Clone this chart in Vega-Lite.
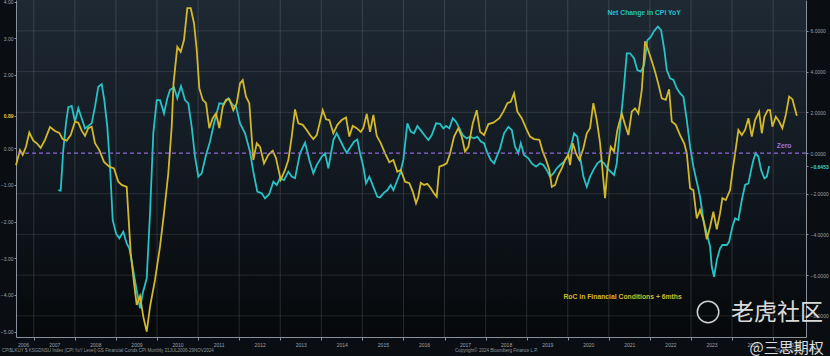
{
  "$schema": "https://vega.github.io/schema/vega-lite/v6.json",
  "width": 790,
  "height": 337,
  "autosize": {"type": "none"},
  "padding": {"left": 16, "top": 0, "right": 24, "bottom": 19},
  "background": "#0a0d11",
  "config": {
    "view": {"stroke": null, "fill": {"gradient": "linear", "x1": 0, "y1": 0, "x2": 0, "y2": 1, "stops": [{"offset": 0, "color": "#1e2934"}, {"offset": 0.5, "color": "#121921"}, {"offset": 1, "color": "#06080a"}]}},
    "font": "Liberation Sans",
    "axis": {"domainColor": "#8a9099", "tickColor": "#8a9099", "labelColor": "#9da3aa", "labelFontSize": 5, "domainWidth": 1, "title": null, "grid": false},
    "axisX": {"ticks": true, "tickSize": 3, "domain": true, "labelFontSize": 5, "labelPadding": 2, "labelFlush": false, "labelOverlap": false, "labelBound": false, "title": null}
  },
  "datasets": {
    "years": [{"year": 2007}, {"year": 2008}, {"year": 2009}, {"year": 2010}, {"year": 2011}, {"year": 2012}, {"year": 2013}, {"year": 2014}, {"year": 2015}, {"year": 2016}, {"year": 2017}, {"year": 2018}, {"year": 2019}, {"year": 2020}, {"year": 2021}, {"year": 2022}, {"year": 2023}, {"year": 2024}, {"year": 2025}],
    "hgrid": [{"v": -8}, {"v": -6}, {"v": -4}, {"v": -2}, {"v": 2}, {"v": 4}, {"v": 6}],
    "fci": [
      {"t": 2006.567, "v": -0.46}, {"t": 2006.664, "v": -0.05}, {"t": 2006.730, "v": -0.18}, {"t": 2006.810, "v": 0.04}, {"t": 2006.891, "v": 0.43}, {"t": 2006.988, "v": 0.21}, {"t": 2007.071, "v": 0.14}, {"t": 2007.168, "v": 0.01}, {"t": 2007.273, "v": 0.23}, {"t": 2007.395, "v": 0.58}, {"t": 2007.516, "v": 0.47}, {"t": 2007.621, "v": 0.42}, {"t": 2007.704, "v": 0.25}, {"t": 2007.801, "v": 0.21}, {"t": 2007.899, "v": 0.36}, {"t": 2008.003, "v": 0.73}, {"t": 2008.084, "v": 0.70}, {"t": 2008.166, "v": 0.48}, {"t": 2008.247, "v": 0.34}, {"t": 2008.327, "v": 0.55}, {"t": 2008.410, "v": 0.59}, {"t": 2008.490, "v": 0.14}, {"t": 2008.595, "v": -0.05}, {"t": 2008.710, "v": -0.37}, {"t": 2008.839, "v": -0.50}, {"t": 2008.953, "v": -0.55}, {"t": 2009.058, "v": -0.91}, {"t": 2009.140, "v": -1.00}, {"t": 2009.262, "v": -1.05}, {"t": 2009.360, "v": -2.86}, {"t": 2009.440, "v": -3.67}, {"t": 2009.506, "v": -4.27}, {"t": 2009.586, "v": -4.03}, {"t": 2009.666, "v": -4.59}, {"t": 2009.749, "v": -5.00}, {"t": 2009.830, "v": -4.32}, {"t": 2009.951, "v": -3.59}, {"t": 2010.073, "v": -2.68}, {"t": 2010.170, "v": -1.77}, {"t": 2010.275, "v": -0.68}, {"t": 2010.358, "v": 0.59}, {"t": 2010.402, "v": 1.77}, {"t": 2010.494, "v": 2.77}, {"t": 2010.577, "v": 2.63}, {"t": 2010.657, "v": 2.95}, {"t": 2010.738, "v": 3.82}, {"t": 2010.821, "v": 3.82}, {"t": 2010.901, "v": 3.41}, {"t": 2010.967, "v": 2.68}, {"t": 2011.030, "v": 1.64}, {"t": 2011.113, "v": 1.32}, {"t": 2011.193, "v": 1.23}, {"t": 2011.273, "v": 0.55}, {"t": 2011.356, "v": 0.82}, {"t": 2011.437, "v": 0.95}, {"t": 2011.517, "v": 0.55}, {"t": 2011.600, "v": 1.13}, {"t": 2011.680, "v": 1.32}, {"t": 2011.760, "v": 1.34}, {"t": 2011.858, "v": 1.04}, {"t": 2011.941, "v": 1.23}, {"t": 2012.021, "v": 1.77}, {"t": 2012.087, "v": 1.86}, {"t": 2012.167, "v": 1.41}, {"t": 2012.247, "v": 1.23}, {"t": 2012.345, "v": -0.32}, {"t": 2012.428, "v": 0.14}, {"t": 2012.508, "v": 0.04}, {"t": 2012.605, "v": -0.41}, {"t": 2012.710, "v": -0.18}, {"t": 2012.817, "v": -0.07}, {"t": 2012.898, "v": -0.27}, {"t": 2013.012, "v": -0.86}, {"t": 2013.117, "v": -0.59}, {"t": 2013.197, "v": -0.32}, {"t": 2013.280, "v": 0.32}, {"t": 2013.360, "v": 1.06}, {"t": 2013.441, "v": 0.68}, {"t": 2013.548, "v": 0.64}, {"t": 2013.645, "v": 0.50}, {"t": 2013.725, "v": 0.36}, {"t": 2013.806, "v": 0.25}, {"t": 2013.889, "v": 0.36}, {"t": 2013.969, "v": 0.73}, {"t": 2014.035, "v": 1.04}, {"t": 2014.115, "v": 0.79}, {"t": 2014.195, "v": 0.77}, {"t": 2014.293, "v": 0.41}, {"t": 2014.390, "v": 0.64}, {"t": 2014.497, "v": 0.77}, {"t": 2014.602, "v": 0.84}, {"t": 2014.682, "v": 0.32}, {"t": 2014.765, "v": 0.61}, {"t": 2014.862, "v": 0.55}, {"t": 2014.960, "v": 0.45}, {"t": 2015.023, "v": 0.55}, {"t": 2015.106, "v": 0.94}, {"t": 2015.186, "v": 0.45}, {"t": 2015.267, "v": 0.91}, {"t": 2015.349, "v": 0.34}, {"t": 2015.447, "v": 0.14}, {"t": 2015.552, "v": -0.14}, {"t": 2015.656, "v": -0.38}, {"t": 2015.754, "v": -0.32}, {"t": 2015.851, "v": -0.64}, {"t": 2015.934, "v": -0.59}, {"t": 2016.039, "v": -0.91}, {"t": 2016.143, "v": -0.95}, {"t": 2016.226, "v": -1.18}, {"t": 2016.306, "v": -1.50}, {"t": 2016.362, "v": -1.32}, {"t": 2016.421, "v": -0.94}, {"t": 2016.501, "v": -1.00}, {"t": 2016.582, "v": -0.97}, {"t": 2016.664, "v": -1.09}, {"t": 2016.745, "v": -1.23}, {"t": 2016.810, "v": -1.32}, {"t": 2016.874, "v": -0.50}, {"t": 2016.971, "v": -0.46}, {"t": 2017.054, "v": -0.41}, {"t": 2017.134, "v": -0.14}, {"t": 2017.232, "v": 0.32}, {"t": 2017.336, "v": 0.55}, {"t": 2017.419, "v": 0.32}, {"t": 2017.499, "v": -0.09}, {"t": 2017.580, "v": 0.04}, {"t": 2017.687, "v": 0.68}, {"t": 2017.784, "v": 1.04}, {"t": 2017.865, "v": 0.45}, {"t": 2017.962, "v": 0.36}, {"t": 2018.067, "v": 0.66}, {"t": 2018.189, "v": 0.70}, {"t": 2018.335, "v": 0.82}, {"t": 2018.432, "v": 1.00}, {"t": 2018.530, "v": 1.23}, {"t": 2018.612, "v": 1.27}, {"t": 2018.693, "v": 1.50}, {"t": 2018.773, "v": 1.00}, {"t": 2018.880, "v": 0.82}, {"t": 2019.002, "v": 0.50}, {"t": 2019.082, "v": 0.32}, {"t": 2019.180, "v": 0.25}, {"t": 2019.309, "v": 0.23}, {"t": 2019.391, "v": -0.09}, {"t": 2019.472, "v": -0.32}, {"t": 2019.552, "v": -0.59}, {"t": 2019.611, "v": -1.05}, {"t": 2019.691, "v": -1.00}, {"t": 2019.771, "v": -0.73}, {"t": 2019.854, "v": -0.55}, {"t": 2019.934, "v": -0.32}, {"t": 2020.015, "v": -0.18}, {"t": 2020.056, "v": -0.46}, {"t": 2020.122, "v": 0.14}, {"t": 2020.202, "v": -0.14}, {"t": 2020.283, "v": -0.32}, {"t": 2020.380, "v": 0.00}, {"t": 2020.463, "v": 0.41}, {"t": 2020.543, "v": 0.55}, {"t": 2020.623, "v": 1.23}, {"t": 2020.706, "v": 0.77}, {"t": 2020.787, "v": 0.14}, {"t": 2020.852, "v": -0.68}, {"t": 2020.908, "v": -1.36}, {"t": 2020.964, "v": -0.59}, {"t": 2021.047, "v": 0.04}, {"t": 2021.128, "v": -0.09}, {"t": 2021.208, "v": 0.50}, {"t": 2021.315, "v": 0.95}, {"t": 2021.395, "v": 0.64}, {"t": 2021.476, "v": 0.36}, {"t": 2021.558, "v": 1.00}, {"t": 2021.639, "v": 1.09}, {"t": 2021.719, "v": 0.95}, {"t": 2021.802, "v": 1.59}, {"t": 2021.882, "v": 2.92}, {"t": 2021.963, "v": 2.66}, {"t": 2022.045, "v": 2.38}, {"t": 2022.126, "v": 2.09}, {"t": 2022.206, "v": 1.75}, {"t": 2022.289, "v": 1.36}, {"t": 2022.386, "v": 1.32}, {"t": 2022.467, "v": 1.61}, {"t": 2022.532, "v": 0.73}, {"t": 2022.630, "v": 0.64}, {"t": 2022.735, "v": 0.36}, {"t": 2022.839, "v": 0.12}, {"t": 2022.898, "v": -0.14}, {"t": 2022.978, "v": -1.09}, {"t": 2023.058, "v": -1.14}, {"t": 2023.141, "v": -1.91}, {"t": 2023.221, "v": -1.68}, {"t": 2023.302, "v": -1.96}, {"t": 2023.385, "v": -2.48}, {"t": 2023.465, "v": -2.14}, {"t": 2023.545, "v": -1.73}, {"t": 2023.628, "v": -2.21}, {"t": 2023.708, "v": -1.77}, {"t": 2023.764, "v": -1.36}, {"t": 2023.847, "v": -1.41}, {"t": 2023.952, "v": -1.14}, {"t": 2024.008, "v": -0.64}, {"t": 2024.074, "v": -0.14}, {"t": 2024.154, "v": 0.50}, {"t": 2024.237, "v": 0.36}, {"t": 2024.317, "v": 0.50}, {"t": 2024.398, "v": 0.82}, {"t": 2024.480, "v": 0.32}, {"t": 2024.561, "v": 0.77}, {"t": 2024.658, "v": 1.00}, {"t": 2024.724, "v": 0.41}, {"t": 2024.787, "v": 0.86}, {"t": 2024.870, "v": 1.04}, {"t": 2024.926, "v": 1.04}, {"t": 2024.982, "v": 0.59}, {"t": 2025.065, "v": 0.86}, {"t": 2025.145, "v": 0.73}, {"t": 2025.225, "v": 0.55}, {"t": 2025.308, "v": 0.91}, {"t": 2025.389, "v": 1.41}, {"t": 2025.469, "v": 1.34}, {"t": 2025.576, "v": 0.89}
    ],
    "cpi": [
      {"t": 2007.597, "v": -1.82}, {"t": 2007.655, "v": -1.85}, {"t": 2007.718, "v": 0.15}, {"t": 2007.784, "v": 1.46}, {"t": 2007.840, "v": 2.25}, {"t": 2007.923, "v": 2.31}, {"t": 2008.003, "v": 1.54}, {"t": 2008.084, "v": 2.20}, {"t": 2008.166, "v": 1.71}, {"t": 2008.247, "v": 1.21}, {"t": 2008.327, "v": 1.33}, {"t": 2008.410, "v": 1.46}, {"t": 2008.490, "v": 2.28}, {"t": 2008.571, "v": 3.26}, {"t": 2008.653, "v": 3.39}, {"t": 2008.717, "v": 2.60}, {"t": 2008.790, "v": 1.29}, {"t": 2008.856, "v": -0.67}, {"t": 2008.921, "v": -3.29}, {"t": 2009.002, "v": -3.95}, {"t": 2009.082, "v": -4.19}, {"t": 2009.179, "v": -3.87}, {"t": 2009.262, "v": -4.44}, {"t": 2009.326, "v": -4.68}, {"t": 2009.408, "v": -5.59}, {"t": 2009.489, "v": -6.57}, {"t": 2009.586, "v": -7.63}, {"t": 2009.652, "v": -6.89}, {"t": 2009.749, "v": -6.16}, {"t": 2009.830, "v": -2.96}, {"t": 2009.910, "v": 0.97}, {"t": 2009.993, "v": 2.60}, {"t": 2010.073, "v": 2.60}, {"t": 2010.170, "v": 1.95}, {"t": 2010.251, "v": 2.69}, {"t": 2010.317, "v": 3.10}, {"t": 2010.414, "v": 3.23}, {"t": 2010.494, "v": 2.69}, {"t": 2010.584, "v": 3.29}, {"t": 2010.682, "v": 2.60}, {"t": 2010.762, "v": 2.44}, {"t": 2010.845, "v": 1.29}, {"t": 2010.925, "v": -0.18}, {"t": 2011.006, "v": -1.16}, {"t": 2011.088, "v": -1.00}, {"t": 2011.193, "v": -0.10}, {"t": 2011.290, "v": 0.56}, {"t": 2011.388, "v": 1.46}, {"t": 2011.517, "v": 2.44}, {"t": 2011.614, "v": 2.41}, {"t": 2011.736, "v": 2.69}, {"t": 2011.843, "v": 2.36}, {"t": 2011.924, "v": 2.28}, {"t": 2012.021, "v": 1.46}, {"t": 2012.143, "v": 0.97}, {"t": 2012.264, "v": 0.06}, {"t": 2012.345, "v": -0.92}, {"t": 2012.442, "v": -1.90}, {"t": 2012.549, "v": -1.98}, {"t": 2012.630, "v": -2.23}, {"t": 2012.734, "v": -2.01}, {"t": 2012.832, "v": -1.41}, {"t": 2012.915, "v": -1.57}, {"t": 2012.995, "v": -1.24}, {"t": 2013.092, "v": -1.33}, {"t": 2013.197, "v": -0.92}, {"t": 2013.280, "v": -1.16}, {"t": 2013.360, "v": -1.24}, {"t": 2013.482, "v": -0.01}, {"t": 2013.604, "v": 0.51}, {"t": 2013.708, "v": -0.34}, {"t": 2013.806, "v": -1.00}, {"t": 2013.889, "v": -0.59}, {"t": 2014.010, "v": -0.18}, {"t": 2014.091, "v": -0.01}, {"t": 2014.171, "v": -0.75}, {"t": 2014.293, "v": 0.64}, {"t": 2014.375, "v": 0.97}, {"t": 2014.456, "v": 0.64}, {"t": 2014.536, "v": 0.31}, {"t": 2014.619, "v": 0.01}, {"t": 2014.716, "v": 0.31}, {"t": 2014.797, "v": 0.56}, {"t": 2014.877, "v": 0.67}, {"t": 2014.943, "v": -0.01}, {"t": 2015.023, "v": -0.67}, {"t": 2015.089, "v": -1.49}, {"t": 2015.169, "v": -1.16}, {"t": 2015.267, "v": -1.66}, {"t": 2015.364, "v": -2.15}, {"t": 2015.430, "v": -2.18}, {"t": 2015.510, "v": -1.98}, {"t": 2015.608, "v": -1.82}, {"t": 2015.690, "v": -1.57}, {"t": 2015.754, "v": -1.82}, {"t": 2015.836, "v": -1.41}, {"t": 2015.917, "v": -1.00}, {"t": 2015.997, "v": -0.34}, {"t": 2016.095, "v": 1.46}, {"t": 2016.177, "v": 1.05}, {"t": 2016.258, "v": 0.97}, {"t": 2016.338, "v": 1.33}, {"t": 2016.445, "v": 1.05}, {"t": 2016.526, "v": 0.84}, {"t": 2016.606, "v": 0.64}, {"t": 2016.689, "v": 0.88}, {"t": 2016.793, "v": 1.46}, {"t": 2016.891, "v": 1.43}, {"t": 2016.971, "v": 1.21}, {"t": 2017.037, "v": 1.33}, {"t": 2017.117, "v": 1.21}, {"t": 2017.200, "v": 1.71}, {"t": 2017.280, "v": 1.54}, {"t": 2017.361, "v": 1.21}, {"t": 2017.443, "v": 0.88}, {"t": 2017.541, "v": 0.72}, {"t": 2017.621, "v": 0.80}, {"t": 2017.719, "v": 0.72}, {"t": 2017.799, "v": 0.80}, {"t": 2017.882, "v": 0.56}, {"t": 2017.962, "v": 0.48}, {"t": 2018.042, "v": 0.01}, {"t": 2018.125, "v": -0.34}, {"t": 2018.206, "v": -0.51}, {"t": 2018.271, "v": -0.18}, {"t": 2018.352, "v": 0.23}, {"t": 2018.449, "v": 0.97}, {"t": 2018.554, "v": 1.29}, {"t": 2018.637, "v": 1.13}, {"t": 2018.717, "v": 0.31}, {"t": 2018.797, "v": -0.01}, {"t": 2018.856, "v": 0.48}, {"t": 2018.936, "v": -0.10}, {"t": 2019.041, "v": -0.26}, {"t": 2019.124, "v": -0.51}, {"t": 2019.228, "v": -0.67}, {"t": 2019.326, "v": -0.51}, {"t": 2019.406, "v": -0.59}, {"t": 2019.489, "v": -0.84}, {"t": 2019.569, "v": -1.16}, {"t": 2019.650, "v": -1.00}, {"t": 2019.732, "v": -0.75}, {"t": 2019.813, "v": -0.59}, {"t": 2019.910, "v": -0.43}, {"t": 2019.990, "v": -0.18}, {"t": 2020.097, "v": 0.48}, {"t": 2020.154, "v": 0.97}, {"t": 2020.234, "v": 0.80}, {"t": 2020.300, "v": -0.18}, {"t": 2020.380, "v": -1.16}, {"t": 2020.463, "v": -1.66}, {"t": 2020.543, "v": -1.16}, {"t": 2020.623, "v": -0.84}, {"t": 2020.721, "v": -0.51}, {"t": 2020.804, "v": -0.38}, {"t": 2020.884, "v": -0.51}, {"t": 2020.964, "v": -0.75}, {"t": 2021.047, "v": -0.92}, {"t": 2021.128, "v": -1.08}, {"t": 2021.193, "v": -0.51}, {"t": 2021.273, "v": 1.29}, {"t": 2021.354, "v": 2.93}, {"t": 2021.437, "v": 4.90}, {"t": 2021.517, "v": 4.90}, {"t": 2021.614, "v": 4.65}, {"t": 2021.695, "v": 4.08}, {"t": 2021.778, "v": 4.00}, {"t": 2021.858, "v": 4.32}, {"t": 2021.939, "v": 5.55}, {"t": 2022.021, "v": 5.71}, {"t": 2022.102, "v": 6.00}, {"t": 2022.192, "v": 6.21}, {"t": 2022.272, "v": 6.04}, {"t": 2022.352, "v": 5.06}, {"t": 2022.411, "v": 4.08}, {"t": 2022.491, "v": 3.67}, {"t": 2022.572, "v": 3.59}, {"t": 2022.654, "v": 3.18}, {"t": 2022.735, "v": 2.93}, {"t": 2022.815, "v": 2.77}, {"t": 2022.898, "v": 1.62}, {"t": 2022.978, "v": 0.31}, {"t": 2023.058, "v": -0.67}, {"t": 2023.141, "v": -1.41}, {"t": 2023.221, "v": -2.15}, {"t": 2023.302, "v": -3.29}, {"t": 2023.385, "v": -3.95}, {"t": 2023.465, "v": -4.60}, {"t": 2023.506, "v": -5.59}, {"t": 2023.562, "v": -6.08}, {"t": 2023.628, "v": -5.26}, {"t": 2023.708, "v": -4.68}, {"t": 2023.764, "v": -4.52}, {"t": 2023.871, "v": -4.52}, {"t": 2023.928, "v": -4.36}, {"t": 2024.008, "v": -3.62}, {"t": 2024.074, "v": -3.21}, {"t": 2024.154, "v": -3.29}, {"t": 2024.237, "v": -2.31}, {"t": 2024.317, "v": -1.57}, {"t": 2024.398, "v": -1.49}, {"t": 2024.463, "v": -0.84}, {"t": 2024.519, "v": -0.34}, {"t": 2024.578, "v": -0.01}, {"t": 2024.641, "v": -0.18}, {"t": 2024.707, "v": -0.84}, {"t": 2024.787, "v": -1.24}, {"t": 2024.846, "v": -1.16}, {"t": 2024.902, "v": -0.6453}
    ]
  },
  "resolve": {"scale": {"y": "independent"}},
  "layer": [
    {
      "data": {"name": "years"},
      "mark": {"type": "rule", "color": "#ffffff", "opacity": 0.13, "strokeWidth": 1},
      "encoding": {
        "x": {"field": "year", "type": "quantitative", "scale": {"domain": [2006.567, 2025.8], "nice": false, "zero": false},
          "axis": {"orient": "bottom", "values": [2006.6, 2007, 2008, 2009, 2010, 2011, 2012, 2013, 2014, 2015, 2016, 2017, 2018, 2019, 2020, 2021, 2022, 2023, 2024, 2025], "labelExpr": "'' + floor(datum.value)", "labelOffset": {"condition": {"test": "datum.value < 2007", "value": 5.6}, "value": 20.5}, "tickOpacity": {"condition": {"test": "datum.value < 2007", "value": 0}, "value": 1}, "title": null}}
      }
    },
    {
      "data": {"name": "hgrid"},
      "mark": {"type": "rule", "color": "#ffffff", "opacity": 0.11, "strokeWidth": 1},
      "encoding": {
        "y": {"field": "v", "type": "quantitative", "scale": {"domain": [-9.04, 7.52], "nice": false, "zero": false}, "axis": null}
      }
    },
    {
      "data": {"name": "cpi"},
      "mark": {"type": "line", "color": "#27c2c6", "strokeWidth": 1.8},
      "encoding": {
        "x": {"field": "t", "type": "quantitative", "scale": {"domain": [2006.567, 2025.8], "nice": false, "zero": false},
          "axis": {"orient": "bottom", "values": [2006.6, 2007, 2008, 2009, 2010, 2011, 2012, 2013, 2014, 2015, 2016, 2017, 2018, 2019, 2020, 2021, 2022, 2023, 2024, 2025], "labelExpr": "'' + floor(datum.value)", "labelOffset": {"condition": {"test": "datum.value < 2007", "value": 5.6}, "value": 20.5}, "tickOpacity": {"condition": {"test": "datum.value < 2007", "value": 0}, "value": 1}, "title": null}},
        "y": {"field": "v", "type": "quantitative", "scale": {"domain": [-9.04, 7.52], "nice": false, "zero": false},
          "axis": {"orient": "right", "values": [-8, -6, -4, -2, 0, 2, 4, 6, -0.6453], "format": ".4f",
            "labelColor": {"condition": {"test": "datum.value == -0.6453", "value": "#3fd6da"}, "value": "#9da3aa"},
            "labelFontWeight": {"condition": {"test": "datum.value == -0.6453", "value": "bold"}, "value": "normal"},
            "tickSize": 2, "labelPadding": 2, "labelFontSize": 5}}
      }
    },
    {
      "data": {"name": "fci"},
      "mark": {"type": "line", "color": "#d2b82c", "strokeWidth": 1.8},
      "encoding": {
        "x": {"field": "t", "type": "quantitative", "scale": {"domain": [2006.567, 2025.8], "nice": false, "zero": false},
          "axis": {"orient": "bottom", "values": [2006.6, 2007, 2008, 2009, 2010, 2011, 2012, 2013, 2014, 2015, 2016, 2017, 2018, 2019, 2020, 2021, 2022, 2023, 2024, 2025], "labelExpr": "'' + floor(datum.value)", "labelOffset": {"condition": {"test": "datum.value < 2007", "value": 5.6}, "value": 20.5}, "tickOpacity": {"condition": {"test": "datum.value < 2007", "value": 0}, "value": 1}, "title": null}},
        "y": {"field": "v", "type": "quantitative", "scale": {"domain": [-5.146, 4.044], "nice": false, "zero": false},
          "axis": {"orient": "left", "values": [-5, -4, -3, -2, -1, 0, 0.89, 2, 3, 4], "format": ".2f",
            "labelColor": {"condition": {"test": "datum.value == 0.89", "value": "#e6c935"}, "value": "#9da3aa"},
            "labelFontWeight": {"condition": {"test": "datum.value == 0.89", "value": "bold"}, "value": "normal"},
            "tickSize": 2, "labelPadding": 1, "labelFontSize": 5}}
      }
    },
    {
      "data": {"values": [{"v": 0}]},
      "mark": {"type": "rule", "color": "#8e6ad8", "strokeDash": [4, 3], "strokeWidth": 1.2},
      "encoding": {
        "y": {"field": "v", "type": "quantitative", "scale": {"domain": [-9.04, 7.52], "nice": false, "zero": false}, "axis": null}
      }
    },
    {
      "data": {"values": [
        {"t": 2021.858, "v": 6.86, "label": "Net Change in CPI YoY", "kind": "cpi"},
        {"t": 2021.335, "v": -7.06, "label": "RoC in Financial Conditions + 6mths", "kind": "fci"},
        {"t": 2025.267, "v": 0.34, "label": "Zero", "kind": "zero"}
      ]},
      "mark": {"type": "text", "fontWeight": "bold", "fontSize": 6.8, "baseline": "middle", "align": "center"},
      "encoding": {
        "x": {"field": "t", "type": "quantitative", "scale": {"domain": [2006.567, 2025.8], "nice": false, "zero": false},
          "axis": {"orient": "bottom", "values": [2006.6, 2007, 2008, 2009, 2010, 2011, 2012, 2013, 2014, 2015, 2016, 2017, 2018, 2019, 2020, 2021, 2022, 2023, 2024, 2025], "labelExpr": "'' + floor(datum.value)", "labelOffset": {"condition": {"test": "datum.value < 2007", "value": 5.6}, "value": 20.5}, "tickOpacity": {"condition": {"test": "datum.value < 2007", "value": 0}, "value": 1}, "title": null}},
        "y": {"field": "v", "type": "quantitative", "scale": {"domain": [-9.04, 7.52], "nice": false, "zero": false}, "axis": null},
        "text": {"field": "label"},
        "color": {"field": "kind", "type": "nominal", "scale": {"domain": ["cpi", "fci", "zero"], "range": ["#27c2c6", "#d2b82c", "#9a74e6"]}, "legend": null}
      }
    },
    {
      "data": {"values": [
        {"t": 2006.226, "v": -9.73, "label": "CPI$LKUY $ KSGDNSU Index (CPI YoY Level) GS Financial Conds CPI   Monthly 31JUL2006-29NOV2024"},
        {"t": 2017.256, "v": -9.73, "label": "Copyright© 2024 Bloomberg Finance L.P."},
        {"t": 2025.05, "v": -9.73, "label": "05-Dec-2024 17:44:53"}
      ]},
      "mark": {"type": "text", "fontSize": 4.5, "color": "#8f959c", "align": "left", "baseline": "middle"},
      "encoding": {
        "x": {"field": "t", "type": "quantitative", "scale": {"domain": [2006.567, 2025.8], "nice": false, "zero": false},
          "axis": {"orient": "bottom", "values": [2006.6, 2007, 2008, 2009, 2010, 2011, 2012, 2013, 2014, 2015, 2016, 2017, 2018, 2019, 2020, 2021, 2022, 2023, 2024, 2025], "labelExpr": "'' + floor(datum.value)", "labelOffset": {"condition": {"test": "datum.value < 2007", "value": 5.6}, "value": 20.5}, "tickOpacity": {"condition": {"test": "datum.value < 2007", "value": 0}, "value": 1}, "title": null}},
        "y": {"field": "v", "type": "quantitative", "scale": {"domain": [-9.04, 7.52], "nice": false, "zero": false}, "axis": null},
        "text": {"field": "label"}
      }
    },
    {
      "data": {"values": [{"t": 2023.416, "v": -7.81}]},
      "mark": {"type": "point", "shape": "circle", "filled": false, "stroke": "#e6e6e6", "strokeWidth": 1.5, "size": 460, "opacity": 0.9},
      "encoding": {
        "x": {"field": "t", "type": "quantitative", "scale": {"domain": [2006.567, 2025.8], "nice": false, "zero": false},
          "axis": {"orient": "bottom", "values": [2006.6, 2007, 2008, 2009, 2010, 2011, 2012, 2013, 2014, 2015, 2016, 2017, 2018, 2019, 2020, 2021, 2022, 2023, 2024, 2025], "labelExpr": "'' + floor(datum.value)", "labelOffset": {"condition": {"test": "datum.value < 2007", "value": 5.6}, "value": 20.5}, "tickOpacity": {"condition": {"test": "datum.value < 2007", "value": 0}, "value": 1}, "title": null}},
        "y": {"field": "v", "type": "quantitative", "scale": {"domain": [-9.04, 7.52], "nice": false, "zero": false}, "axis": null}
      }
    },
    {
      "data": {"values": [
        {"t": 2025.096, "v": -7.86, "label": "老虎社区", "size": 23},
        {"t": 2025.33, "v": -9.6, "label": "@三思期权", "size": 15}
      ]},
      "mark": {"type": "text", "font": "Noto Sans CJK SC", "color": "#ececec", "align": "center", "baseline": "middle", "opacity": 0.92},
      "encoding": {
        "x": {"field": "t", "type": "quantitative", "scale": {"domain": [2006.567, 2025.8], "nice": false, "zero": false},
          "axis": {"orient": "bottom", "values": [2006.6, 2007, 2008, 2009, 2010, 2011, 2012, 2013, 2014, 2015, 2016, 2017, 2018, 2019, 2020, 2021, 2022, 2023, 2024, 2025], "labelExpr": "'' + floor(datum.value)", "labelOffset": {"condition": {"test": "datum.value < 2007", "value": 5.6}, "value": 20.5}, "tickOpacity": {"condition": {"test": "datum.value < 2007", "value": 0}, "value": 1}, "title": null}},
        "y": {"field": "v", "type": "quantitative", "scale": {"domain": [-9.04, 7.52], "nice": false, "zero": false}, "axis": null},
        "text": {"field": "label"},
        "size": {"field": "size", "type": "quantitative", "scale": null, "legend": null}
      }
    }
  ]
}
